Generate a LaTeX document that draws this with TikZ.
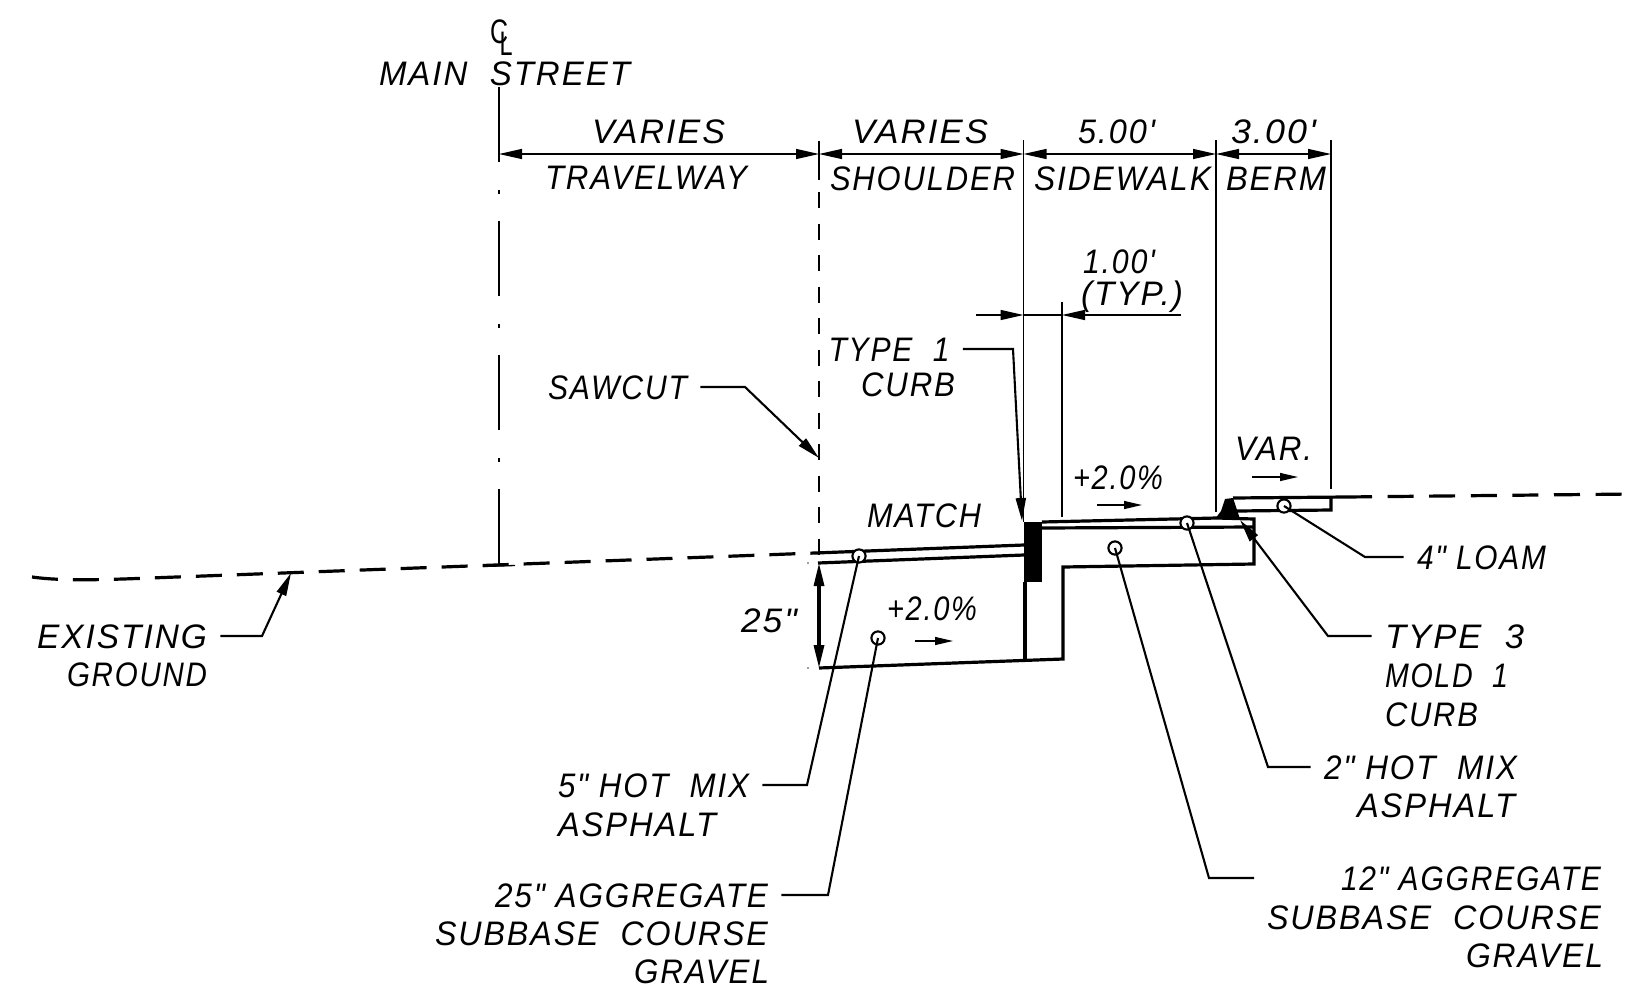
\documentclass[tikz,border=0pt]{standalone}
\usepackage{fontspec}
\usepackage{graphicx}
\usetikzlibrary{arrows.meta}
\newfontfamily\labf[LetterSpace=6]{Liberation Sans}
\newfontfamily\clf{Liberation Sans}
\newsavebox\mbx
\newcommand\ft[2]{\sbox\mbx{\labf\itshape\fontsize{17}{17}\selectfont #2}\pgfmathsetmacro\xrat{#1*0.5/\wd\mbx}\scalebox{\xrat}[1]{\usebox\mbx}}
\newcommand\fc[2]{\sbox\mbx{\clf\fontsize{17}{17}\selectfont #2}\pgfmathsetmacro\xrat{#1*0.5/\wd\mbx}\scalebox{\xrat}[1]{\usebox\mbx}}
\tikzset{
  lab/.style={inner xsep=6.5pt,inner ysep=0pt,text height=12.2pt,text depth=0pt,anchor=center},
  thin line/.style={line width=0.65pt},
  lead/.style={line width=1.05pt},
  heavy/.style={line width=1.6pt},
  dimtip/.style={{Triangle[length=11.5pt,width=5pt]}-{Triangle[length=11.5pt,width=5pt]}},
  endtip/.style={-{Triangle[length=11.5pt,width=5pt]}},
  slopetip/.style={thin line,-{Triangle[length=9pt,width=4pt]}},
  tag/.style={circle,draw,fill=white,line width=1.05pt,minimum size=6.6pt,inner sep=0pt}
}
\begin{document}
\begin{tikzpicture}[x=0.5pt,y=-0.5pt,line cap=butt]
\useasboundingbox (0,0) rectangle (1646,986);
% reference coordinates
\coordinate (cltop) at (499,87);  \coordinate (clbot) at (499,566);
\coordinate (sawtop) at (819,141); \coordinate (sawa) at (819,180);
\coordinate (sawb) at (819,192);  \coordinate (sawc) at (819,563);
\coordinate (d0) at (499,154); \coordinate (d1) at (819,154); \coordinate (d2) at (1023.5,154);
\coordinate (d3) at (1216,154); \coordinate (d4) at (1331,154);
\coordinate (e2t) at (1023.5,140); \coordinate (e2b) at (1023.5,522);
\coordinate (e3t) at (1216,140); \coordinate (e3b) at (1216,512);
\coordinate (e4t) at (1331,140); \coordinate (e4b) at (1331,489);
\coordinate (e5t) at (1062,302); \coordinate (e5b) at (1062,517);
\coordinate (tl) at (976,315); \coordinate (tm) at (1023.5,315); \coordinate (tn) at (1062,315); \coordinate (tr) at (1181,315);
% texts
\node[lab] (cc) at (499,31) {\fc{18}{C}};
\node[lab] (cl) at (506,43) {\fc{13}{L}};
\node[lab] (main) at (504.5,73) {\ft{251}{MAIN\ \ STREET}};
\node[lab] (var1) at (658.5,131) {\ft{133}{VARIES}};
\node[lab] (trav) at (646,177) {\ft{202}{TRAVELWAY}};
\node[lab] (var2) at (920,131) {\ft{136}{VARIES}};
\node[lab] (five) at (1116.5,131) {\ft{77}{5.00'}};
\node[lab] (three) at (1273.5,131) {\ft{85}{3.00'}};
\node[lab] (shou) at (922.5,178) {\ft{185}{SHOULDER}};
\node[lab] (side) at (1122.5,178) {\ft{177}{SIDEWALK}};
\node[lab] (berm) at (1276,178) {\ft{100}{BERM}};
\node[lab] (one) at (1119,261) {\ft{72}{1.00'}};
\node[lab] (typ) at (1132,293) {\ft{102}{(TYP.)}};
\node[lab] (typeone) at (889,349) {\ft{121}{TYPE\ \ 1}};
\node[lab] (curbone) at (908,384) {\ft{94}{CURB}};
\node[lab] (saw) at (617.5,387) {\ft{139}{SAWCUT}};
\node[lab] (match) at (924,515) {\ft{114}{MATCH}};
\node[lab] (pcta) at (932,608) {\ft{90}{+2.0\%}};
\node[lab] (pctb) at (1118,477) {\ft{90}{+2.0\%}};
\node[lab] (varr) at (1273.5,448) {\ft{77}{VAR.}};
\node[lab] (tf) at (769,620) {\ft{56}{25"}};
\node[lab] (exis) at (122,636) {\ft{170}{EXISTING}};
\node[lab] (grou) at (137,674) {\ft{140}{GROUND}};
\node[lab] (loam) at (1481.5,557) {\ft{129}{4" LOAM}};
\node[lab] (typethree) at (1454.5,636) {\ft{139}{TYPE\ \ 3}};
\node[lab] (mold) at (1446.5,675) {\ft{123}{MOLD\ \ 1}};
\node[lab] (curbthree) at (1431.5,714) {\ft{93}{CURB}};
\node[lab] (twohot) at (1420.5,767) {\ft{193}{2" HOT\ \ MIX}};
\node[lab] (aspa) at (1436,805) {\ft{158}{ASPHALT}};
\node[lab] (twelve) at (1471,878) {\ft{260}{12" AGGREGATE}};
\node[lab] (suba) at (1434,917) {\ft{334}{SUBBASE\ \ COURSE}};
\node[lab] (grava) at (1534.5,955) {\ft{137}{GRAVEL}};
\node[lab] (fivehot) at (653.5,785) {\ft{191}{5" HOT\ \ MIX}};
\node[lab] (aspb) at (637,824) {\ft{158}{ASPHALT}};
\node[lab] (twentyfive) at (631.5,895) {\ft{273}{25" AGGREGATE}};
\node[lab] (subb) at (601.5,933) {\ft{333}{SUBBASE\ \ COURSE}};
\node[lab] (gravb) at (701.5,971) {\ft{135}{GRAVEL}};
% centre line, sawcut, extension lines
\draw[thin line,dash pattern=on 37.5pt off 14pt on 2pt off 13.5pt] (cltop) -- (clbot);
\draw[line width=1.2pt] (sawtop) -- (sawa);
\draw[line width=1.2pt,dash pattern=on 8pt off 7.75pt] (sawb) -- (sawc);
\draw[thin line] (e2t) -- (e2b);
\draw[thin line] (e3t) -- (e3b);
\draw[thin line] (e4t) -- (e4b);
\draw[thin line] (e5t) -- (e5b);
% dimensions
\draw[thin line,dimtip] (d0) -- (d1);
\draw[thin line,dimtip] (d1) -- (d2);
\draw[thin line,dimtip] (d2) -- (d3);
\draw[thin line,dimtip] (d3) -- (d4);
\draw[thin line,endtip] (tl) -- (tm);
\draw[thin line] (tm) -- (tn);
\draw[thin line,endtip] (tr) -- (tn);
% ground
\draw[line width=1.6pt,dash pattern=on 13pt off 7.5pt] (32,577) .. controls (60,581) and (100,580) .. (150,578) -- (815,553);
\draw[line width=1.6pt,dash pattern=on 13pt off 7.8pt] (1346,497) -- (1634,494);
\draw[thin line] (483,566.5) -- (515,565.5);
% section
\draw[heavy] (815,553) -- (1024,545);
\draw[heavy] (818,563) -- (1024,555);
\fill (1024,522) rectangle (1042,582);
\draw[heavy] (1025,582) -- (1025,660);
\draw[heavy,line join=miter] (819,668) -- (1063,659) -- (1063,567) -- (1254,564) -- (1254,519) -- (1217,518) -- (1042,522);
\draw[heavy] (1042,528) -- (1254,527);
\fill (1215,519) -- (1221,511) -- (1225,499) -- (1233,498) -- (1240,519) -- cycle;
\draw[heavy,line join=miter] (1233,498) -- (1346,497);
\draw[heavy,line join=miter] (1331,497) -- (1331,510) -- (1237,511);
% 25 inch dimension
\coordinate (ha) at (819,563); \coordinate (hb) at (819,668);
\draw[heavy,dimtip] (ha) -- (hb);
\fill[gray] (808,563) circle (0.6pt) (808,668) circle (0.6pt);
% slope arrows
\draw[slopetip] (915,641) -- (953,641);
\draw[slopetip] (1097,505) -- (1142,505);
\draw[slopetip] (1252,477) -- (1298,477);
% leader tags
\node[tag] (ta) at (859,556) {};
\node[tag] (tb) at (878,638) {};
\node[tag] (tc) at (1115,548) {};
\node[tag] (td) at (1187,523) {};
\node[tag] (te) at (1284,506) {};
% leaders
\coordinate (sawel) at (745,387); \coordinate (sawtip) at (819,458);
\draw[lead,endtip] (saw.east) -- (sawel) -- (sawtip);
\coordinate (cbel) at (1013,349); \coordinate (cbtip) at (1022,521);
\draw[lead,endtip] (typeone.east) -- (cbel) -- (cbtip);
\coordinate (exel) at (262,636); \coordinate (extip) at (291,573);
\draw[lead,endtip] (exis.east) -- (exel) -- (extip);
\coordinate (lmel) at (1365,557);
\draw[lead] (loam.west) -- (lmel) -- (te.center);
\coordinate (t3el) at (1328,636); \coordinate (t3tip) at (1240,520);
\draw[lead,endtip] (typethree.west) -- (t3el) -- (t3tip);
\coordinate (h2el) at (1268,767);
\draw[lead] (twohot.west) -- (h2el) -- (td.center);
\coordinate (a12end) at (1254,878); \coordinate (a12el) at (1209,878);
\draw[lead] (a12end) -- (a12el) -- (tc.center);
\coordinate (h5el) at (807,785);
\draw[lead] (fivehot.east) -- (h5el) -- (ta.center);
\coordinate (a25el) at (828,895);
\draw[lead] (twentyfive.east) -- (a25el) -- (tb.center);
\end{tikzpicture}
\end{document}
